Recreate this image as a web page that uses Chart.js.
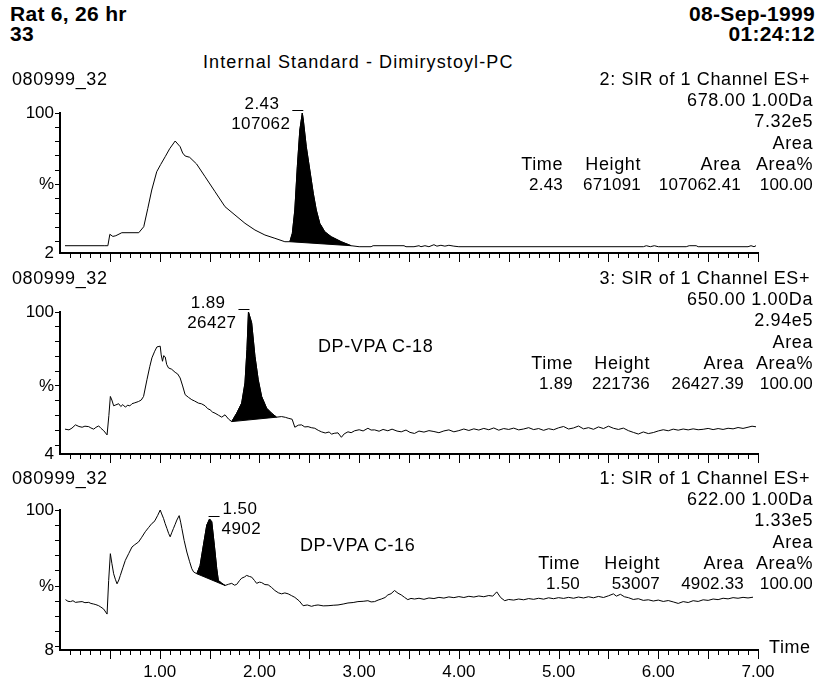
<!DOCTYPE html>
<html>
<head>
<meta charset="utf-8">
<script src="https://cdn.jsdelivr.net/npm/chart.js@4/dist/chart.umd.min.js"></script>
<style>
  html, body { margin: 0; padding: 0; background: #fff; }
  #page { position: relative; width: 822px; height: 681px; overflow: hidden; background: #fff;
          font-family: 'Liberation Sans', Arial, sans-serif; color: #000; }
  .t { position: absolute; font-size: 18px; line-height: 20px; white-space: nowrap; letter-spacing: 0.6px; }
  .num { font-size: 17px; letter-spacing: 0.2px; }
  .ttl { letter-spacing: 1.1px; }
  .hd { font-weight: bold; font-size: 21px; line-height: 22px; letter-spacing: 0.3px; }
  canvas { position: absolute; left: 0; }
</style>
</head>
<body>
<div id="page">
  <canvas id="c1" width="822" height="177" style="top:88px"></canvas>
  <canvas id="c2" width="822" height="179" style="top:287px"></canvas>
  <canvas id="c3" width="822" height="196" style="top:485px"></canvas>
</div>
<script>
// Header / sample info
const sampleName = 'Rat 6, 26 hr';
const sampleNo = '33';
const runDate = '08-Sep-1999';
const runTime = '01:24:12';
const plotTitle = 'Internal Standard - Dimirystoyl-PC';

// Per-trace info (top to bottom)
const runIds = ['080999_32', '080999_32', '080999_32'];
const channels = ['2: SIR of 1 Channel ES+', '3: SIR of 1 Channel ES+', '1: SIR of 1 Channel ES+'];
const masses = ['678.00 1.00Da', '650.00 1.00Da', '622.00 1.00Da'];
const fullScale = ['7.32e5', '2.94e5', '1.33e5'];
const compounds = ['', 'DP-VPA C-18', 'DP-VPA C-16'];
const peakTimes = ['2.43', '1.89', '1.50'];
const peakHeights = ['671091', '221736', '53007'];
const peakAreas = ['107062.41', '26427.39', '4902.33'];
const peakAreaPct = ['100.00', '100.00', '100.00'];
const peakLabelAreas = ['107062', '26427', '4902'];
const yMins = [2, 4, 8];
const peakRanges = [[2.305, 2.92], [1.722, 2.172], [1.372, 1.655]];

// Axis ticks
const xLabelValues = [1, 2, 3, 4, 5, 6, 7];
const yTickValues = [10, 20, 30, 40, 50, 60, 70, 80, 90, 100];

// Traces: [time (min), intensity (%)]
const trace1 = [
  [0.05,7.1],[0.45,7.1],[0.48,7.1],[0.50,15.1],[0.53,13.6],[0.56,14.1],[0.62,16.2],[0.79,16.2],
  [0.84,20.4],[0.88,33.0],[0.92,46.1],[0.97,58.9],[1.01,64.0],[1.055,69.4],[1.10,75.0],[1.155,80.4],
  [1.205,76.4],[1.23,72.0],[1.255,69.9],[1.30,69.0],[1.37,64.3],[1.455,55.4],[1.555,44.9],[1.655,34.4],
  [1.755,28.6],[1.855,22.8],[1.955,18.1],[2.055,14.6],[2.155,12.3],[2.255,9.9],[2.305,9.9],
  [2.33,15.8],[2.355,32.1],[2.38,62.4],[2.405,88.1],[2.43,100],[2.44,95.1],[2.47,76.4],[2.505,60.1],
  [2.54,43.8],[2.57,32.1],[2.605,22.8],[2.655,16.9],[2.72,13.4],[2.82,9.9],[2.92,7.1],
  [3.0,6.4],[3.12,6.4],[3.14,7.1],[3.45,7.1],[3.47,6.4],[3.55,6.4],[3.60,7.1],[3.62,6.4],[3.66,7.1],
  [3.70,6.4],[3.75,7.8],[3.78,6.8],[3.82,7.4],[3.86,6.8],[3.90,7.4],[3.95,6.8],[4.00,6.4],[5.85,6.4],
  [5.88,7.1],[5.92,6.4],[5.96,7.1],[6.00,6.4],[6.28,6.4],[6.31,7.1],[6.38,7.1],[6.40,6.4],[6.90,6.4],
  [6.93,7.1],[6.96,6.4],[6.98,7.1]
];
const trace2 = [
  [0.05,20.8],[0.09,20.3],[0.12,21.5],[0.155,23.7],[0.19,22.6],[0.222,22.1],[0.25,22.8],[0.288,22.5],
  [0.31,21.6],[0.338,20.8],[0.36,22.0],[0.388,23.0],[0.41,21.4],[0.438,19.8],[0.472,16.9],[0.49,30.0],
  [0.505,42.9],[0.52,40.5],[0.538,36.6],[0.56,37.2],[0.588,38.0],[0.61,36.1],[0.63,37.4],[0.655,35.7],
  [0.68,37.0],[0.70,36.5],[0.722,38.0],[0.75,38.6],[0.788,39.5],[0.815,40.5],[0.838,42.9],[0.872,54.2],
  [0.90,63.0],[0.922,69.0],[0.95,73.5],[0.972,76.4],[1.005,76.9],[1.015,71.0],[1.028,66.7],[1.04,70.5],
  [1.055,69.6],[1.07,64.5],[1.088,62.2],[1.12,61.3],[1.155,59.2],[1.18,58.1],[1.205,55.4],[1.23,50.0],
  [1.255,44.1],[1.29,42.2],[1.322,40.7],[1.35,39.8],[1.388,38.4],[1.42,37.9],[1.455,36.6],[1.48,34.7],
  [1.505,33.9],[1.53,32.3],[1.555,31.6],[1.59,30.2],[1.622,28.9],[1.655,30.5],[1.69,27.6],[1.722,25.9],
  [1.772,31.6],[1.822,38.4],[1.855,52.0],[1.875,74.6],[1.89,100],[1.922,92.7],[1.955,70.1],[1.988,54.2],
  [2.022,42.9],[2.072,35.0],[2.122,31.6],[2.172,28.9],
  [2.222,29.3],[2.26,28.8],[2.288,28.2],[2.328,27.5],[2.355,22.1],[2.39,23.5],[2.422,23.7],[2.455,22.3],
  [2.488,22.5],[2.52,21.8],[2.555,21.4],[2.59,20.0],[2.622,19.0],[2.66,18.2],[2.70,18.9],[2.722,17.4],
  [2.75,18.0],[2.788,18.3],[2.822,15.3],[2.85,17.6],[2.888,19.0],[2.92,18.4],[2.955,19.7],[3.00,20.4],
  [3.04,19.6],[3.088,21.4],[3.12,20.2],[3.155,20.3],[3.20,19.4],[3.24,20.6],[3.288,19.7],[3.33,20.8],
  [3.38,19.5],[3.422,19.0],[3.47,20.2],[3.51,18.6],[3.555,17.9],
  [3.60,19.5],[3.65,18.8],[3.70,19.8],[3.75,19.2],[3.80,18.4],[3.85,19.6],[3.90,20.3],[3.95,19.0],
  [4.00,19.8],[4.05,20.9],[4.10,19.9],[4.15,21.0],[4.20,20.2],[4.25,21.3],[4.30,20.4],[4.35,21.6],
  [4.40,20.1],[4.45,21.2],[4.50,20.6],[4.55,21.5],[4.60,20.3],[4.65,20.9],[4.70,21.8],[4.75,20.5],
  [4.80,21.2],[4.85,20.0],[4.90,21.1],[4.95,20.4],[5.00,21.7],[5.05,22.6],[5.10,20.9],[5.15,21.6],
  [5.20,22.9],[5.25,21.0],[5.30,21.8],[5.35,20.7],[5.40,22.3],[5.45,21.2],[5.50,22.8],[5.55,21.4],
  [5.60,20.6],[5.65,21.5],[5.70,19.8],[5.75,18.6],[5.80,17.5],[5.85,18.9],[5.90,17.8],[5.95,18.5],
  [6.00,19.6],[6.05,20.4],[6.10,19.7],[6.15,20.8],[6.20,20.1],[6.25,20.9],[6.30,20.3],[6.35,21.0],
  [6.40,20.4],[6.45,20.7],[6.50,21.3],[6.55,20.5],[6.60,21.2],[6.65,20.6],[6.70,21.4],[6.75,21.0],
  [6.80,21.9],[6.85,21.3],[6.90,22.1],[6.94,22.8],[6.98,22.4]
];
const trace3 = [
  [0.055,41.1],[0.08,40.0],[0.105,39.8],[0.13,40.4],[0.155,39.3],[0.19,39.6],[0.222,39.8],[0.25,39.1],
  [0.288,39.3],[0.31,38.6],[0.338,38.2],[0.36,37.8],[0.388,37.1],[0.41,36.2],[0.438,34.9],[0.472,31.6],
  [0.488,53.7],[0.505,71.3],[0.52,65.0],[0.538,58.1],[0.555,54.5],[0.572,51.5],[0.59,54.0],[0.605,57.0],
  [0.63,62.0],[0.655,66.9],[0.69,71.5],[0.722,75.7],[0.75,77.2],[0.788,79.0],[0.82,82.1],[0.855,85.7],
  [0.89,88.6],[0.922,91.2],[0.94,92.0],[0.955,93.4],[0.98,96.5],[1.005,100],[1.02,97.4],[1.038,94.5],
  [1.055,91.0],[1.072,87.9],[1.09,84.5],[1.105,82.4],[1.12,85.0],[1.138,87.9],[1.155,90.6],[1.172,93.4],
  [1.195,96.3],[1.21,92.0],[1.222,87.9],[1.245,80.0],[1.272,72.4],[1.30,66.0],[1.322,61.4],[1.34,59.3],
  [1.372,58.1],[1.405,63.6],[1.438,76.8],[1.472,90.1],[1.50,94.1],[1.522,92.3],[1.548,76.8],[1.572,61.4],
  [1.588,53.7],[1.62,52.0],[1.655,50.4],
  [1.69,51.2],[1.722,51.8],[1.75,50.6],[1.772,51.1],[1.80,53.6],[1.822,55.2],[1.85,56.0],[1.872,57.0],
  [1.90,56.3],[1.922,55.9],[1.95,53.7],[1.972,51.8],[2.00,52.6],[2.022,52.3],[2.055,51.0],[2.088,50.8],
  [2.12,49.2],[2.155,47.1],[2.19,45.6],[2.222,44.9],[2.255,45.5],[2.288,44.9],[2.32,43.8],[2.355,42.6],
  [2.40,40.2],[2.438,37.1],[2.48,37.6],[2.522,36.7],[2.555,37.3],[2.588,37.6],[2.64,37.0],[2.688,37.1],
  [2.74,37.4],[2.788,37.6],[2.84,38.2],[2.888,38.9],[2.94,39.2],[2.988,39.8],[3.04,40.0],[3.088,40.4],
  [3.12,39.6],[3.155,39.8],[3.19,40.8],[3.222,41.5],[3.26,42.5],[3.288,44.2],[3.32,45.0],[3.355,47.1],
  [3.39,45.3],[3.422,44.2],[3.455,42.6],[3.488,41.1],[3.52,41.9],[3.555,41.5],
  [3.60,42.0],[3.65,41.3],[3.70,42.2],[3.75,41.8],[3.80,42.6],[3.85,42.1],[3.90,42.9],[3.95,42.4],
  [4.00,43.1],[4.05,42.5],[4.10,43.3],[4.15,42.8],[4.20,43.5],[4.25,43.0],[4.30,43.8],[4.34,43.4],
  [4.38,46.2],[4.42,42.4],[4.46,40.4],[4.50,41.2],[4.55,40.8],[4.60,41.5],[4.65,41.0],[4.70,41.8],
  [4.75,41.3],[4.80,42.0],[4.85,41.4],[4.90,42.3],[4.95,41.7],[5.00,42.4],[5.05,41.9],[5.10,42.6],
  [5.15,42.0],[5.20,42.8],[5.25,42.2],[5.30,43.0],[5.35,42.3],[5.40,43.2],[5.45,42.5],[5.50,43.6],
  [5.55,44.9],[5.58,43.4],[5.62,44.6],[5.66,43.0],[5.70,42.4],[5.75,41.2],[5.80,41.7],[5.85,40.6],
  [5.90,41.0],[5.95,40.2],[6.00,40.8],[6.05,39.9],[6.10,40.5],[6.15,39.6],[6.20,38.6],[6.25,39.8],
  [6.30,39.2],[6.35,40.4],[6.40,39.9],[6.45,41.0],[6.50,40.6],[6.55,41.5],[6.60,41.1],[6.65,42.0],
  [6.70,41.6],[6.75,42.4],[6.80,42.0],[6.85,42.6],[6.90,42.2],[6.95,42.7]
];
const traces = [trace1, trace2, trace3];

// ---- text layout ----
const page = document.getElementById('page');
function put(text, x, top, align, cls) {
    const d = document.createElement('div');
    d.className = 't' + (cls ? ' ' + cls : '');
    d.textContent = text;
    d.style.top = top + 'px';
    if (align === 'right') {
        d.style.right = (822 - x) + 'px';
        d.style.textAlign = 'right';
    } else {
        d.style.left = x + 'px';
    }
    page.appendChild(d);
}

const RIGHT = 813;
put(sampleName, 10, 3, 'left', 'hd');
put(sampleNo, 10, 23, 'left', 'hd');
put(runDate, RIGHT + 2, 3, 'right', 'hd');
put(runTime, RIGHT + 2, 23, 'right', 'hd');
put(plotTitle, 203, 52, 'left', 'ttl');

const infoTop = [69, 268, 468];
const colRights = [[563, 641, 741], [573, 650, 744], [580, 660, 744]];
const compoundPos = [null, [318, 336], [300, 535]];

for (let i = 0; i < 3; i++) {
    const top = infoTop[i];
    put(runIds[i], 12, top, 'left');
    put(channels[i], RIGHT - 3, top, 'right');
    put(masses[i], RIGHT, top + 21, 'right');
    put(fullScale[i], RIGHT, top + 42, 'right');
    put('Area', RIGHT, top + 64, 'right');
    const cols = colRights[i];
    put('Time', cols[0], top + 85, 'right');
    put('Height', cols[1], top + 85, 'right');
    put('Area', cols[2], top + 85, 'right');
    put('Area%', RIGHT, top + 85, 'right');
    put(peakTimes[i], cols[0], top + 106, 'right', 'num');
    put(peakHeights[i], cols[1], top + 106, 'right', 'num');
    put(peakAreas[i], cols[2], top + 106, 'right', 'num');
    put(peakAreaPct[i], RIGHT, top + 106, 'right', 'num');
    if (compoundPos[i]) put(compounds[i], compoundPos[i][0], compoundPos[i][1], 'left');
}
put('Time', 769, 637, 'left');

// ---- charts ----
Chart.defaults.font.family = "'Liberation Sans', Arial, sans-serif";
Chart.defaults.font.size = 18;
Chart.defaults.color = '#000';

// minor (0.1) and major (0.5) tick marks under each time axis
const timeTicks = {
    id: 'timeTicks',
    afterDraw(chart) {
        const {ctx, chartArea, scales: {x}} = chart;
        ctx.save();
        ctx.strokeStyle = '#000';
        ctx.lineWidth = 1;
        ctx.beginPath();
        for (let i = 1; i <= 70; i++) {
            const px = Math.round(x.getPixelForValue(i / 10)) + 0.5;
            const len = i % 5 === 0 ? 9 : 5;
            ctx.moveTo(px, chartArea.bottom);
            ctx.lineTo(px, chartArea.bottom + len);
        }
        ctx.stroke();
        ctx.restore();
    }
};

// retention time / area label at the apex of the integrated peak
const peakLabel = {
    id: 'peakLabel',
    afterDatasetsDraw(chart, args, opts) {
        const pts = chart.getDatasetMeta(1).data;
        if (!pts.length) return;
        let apex = pts[0];
        pts.forEach(p => { if (p.y < apex.y) apex = p; });
        const {ctx} = chart;
        ctx.save();
        ctx.fillStyle = '#000';
        ctx.strokeStyle = '#000';
        ctx.lineWidth = 1;
        ctx.font = "17px 'Liberation Sans', Arial, sans-serif";
        if ('letterSpacing' in ctx) ctx.letterSpacing = '0.4px';
        ctx.textBaseline = 'middle';
        const my = Math.round(apex.y) - 2.5;
        ctx.beginPath();
        if (opts.side === 'left') {
            ctx.moveTo(apex.x - 10, my);
            ctx.lineTo(apex.x + 1, my);
            ctx.stroke();
            ctx.textAlign = 'right';
            ctx.fillText(opts.time, apex.x - 23, apex.y - 9);
            ctx.fillText(opts.area, apex.x - 12, apex.y + 11);
        } else {
            ctx.moveTo(apex.x - 1, my);
            ctx.lineTo(apex.x + 10, my);
            ctx.stroke();
            ctx.textAlign = 'left';
            ctx.fillText(opts.time, apex.x + 13, apex.y - 10);
            ctx.fillText(opts.area, apex.x + 12, apex.y + 10);
        }
        ctx.restore();
    }
};

const peakSides = ['left', 'left', 'right'];

function makeChart(i) {
    const pts = traces[i].map(([t, v]) => ({x: t, y: v}));
    const [p0, p1] = peakRanges[i];
    const peakPts = pts.filter(p => p.x >= p0 - 1e-9 && p.x <= p1 + 1e-9);
    const base = [peakPts[0], peakPts[peakPts.length - 1]];
    const yMin = yMins[i];
    const showX = i === 2;

    return new Chart(document.getElementById('c' + (i + 1)), {
        type: 'line',
        data: {
            datasets: [
                { data: pts, borderColor: '#000', borderWidth: 1, fill: false },
                { data: peakPts, borderColor: '#000', borderWidth: 1, backgroundColor: '#000', fill: '+1' },
                { data: base, borderColor: '#000', borderWidth: 1, fill: false }
            ]
        },
        options: {
            responsive: false,
            animation: false,
            devicePixelRatio: 1,
            events: [],
            elements: { point: { radius: 0 }, line: { tension: 0 } },
            layout: { padding: { left: 0, right: 64, top: 25, bottom: 0 } },
            plugins: {
                legend: { display: false },
                tooltip: { enabled: false },
                peakLabel: { time: peakTimes[i], area: peakLabelAreas[i], side: peakSides[i] }
            },
            scales: {
                x: {
                    type: 'linear',
                    min: 0,
                    max: 7,
                    grid: { display: false },
                    border: { display: true, color: '#000', width: 2 },
                    afterBuildTicks: s => { s.ticks = xLabelValues.map(v => ({ value: v })); },
                    afterFit: s => { s.height = showX ? 31 : 12; },
                    ticks: {
                        display: showX,
                        autoSkip: false,
                        maxRotation: 0,
                        padding: 4,
                        color: '#000',
                        font: { size: 17 },
                        callback: v => v.toFixed(2)
                    }
                },
                y: {
                    min: yMin,
                    max: 100,
                    afterBuildTicks: s => { s.ticks = [yMin, ...yTickValues].map(v => ({ value: v })); },
                    afterFit: s => { s.width = 60; },
                    grid: {
                        display: true,
                        drawOnChartArea: false,
                        drawTicks: true,
                        tickLength: 5,
                        color: '#000',
                        tickColor: c => (c.tick && c.tick.value === yMin) ? 'rgba(0,0,0,0)' : '#000'
                    },
                    border: { display: true, color: '#000', width: 2 },
                    ticks: {
                        autoSkip: false,
                        padding: 1,
                        color: '#000',
                        font: { size: 17 },
                        callback: v => v === 100 ? '100' : v === 50 ? '%' : v === yMin ? String(yMin) : ''
                    }
                }
            }
        },
        plugins: [timeTicks, peakLabel]
    });
}

window.addEventListener('load', () => {
    for (let i = 0; i < 3; i++) makeChart(i);
});
</script>
</body>
</html>
